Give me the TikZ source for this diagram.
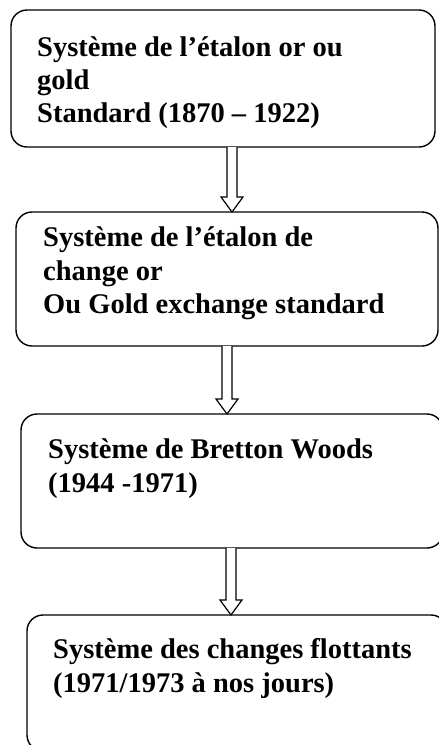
\documentclass[tikz,border=0pt]{standalone}
\usepackage{fontspec}
\setmainfont{Liberation Serif}
\begin{document}
\begin{tikzpicture}[x=1pt,y=-1pt,
  box/.style={draw, line width=1.4pt, rounded corners=16pt, anchor=north west, inner sep=0pt, outer sep=0pt},
  txt/.style={anchor=base west, inner sep=0pt, font=\fontsize{28.5}{34}\selectfont\bfseries},
  blockarr/.style={draw, line width=1.2pt, fill=white, line join=miter}]
\useasboundingbox (0,0) rectangle (439,745);
% boxes
\node[box, minimum width=424pt, minimum height=137pt] (b1) at (11,10) {};
\node[box, minimum width=422pt, minimum height=134pt] (b2) at (16,212) {};
\node[box, minimum width=422pt, minimum height=134pt] (b3) at (21,414) {};
\node[box, minimum width=420pt, minimum height=136pt] (b4) at (27,615) {};
% texts
\node[txt] (t1a) at (37,56) {Système de l’étalon or ou};
\node[txt] (t1b) at (37,89) {gold};
\node[txt] (t1c) at (37,122) {Standard (1870 – 1922)};
\node[txt] (t2a) at (43,246) {Système de l’étalon de};
\node[txt] (t2b) at (43,280) {change or};
\node[txt] (t2c) at (43,313) {Ou Gold exchange standard};
\node[txt] (t3a) at (48,458) {Système de Bretton Woods};
\node[txt] (t3b) at (48,492) {(1944 -1971)};
\node[txt] (t4a) at (53,658) {Système des changes flottants};
\node[txt] (t4b) at (53,692) {(1971/1973 à nos jours)};
% arrows
\coordinate (x1) at (232,0);
\coordinate (x2) at (227,0);
\coordinate (x3) at (231,0);
\foreach \a/\b/\x in {b1/b2/x1, b2/b3/x2, b3/b4/x3}{
  \draw[blockarr] ([xshift=-5pt]\x |- \a.south) -- ([xshift=-5pt,yshift=15pt]\x |- \b.north)
    -- ([xshift=-11pt,yshift=15pt]\x |- \b.north) -- (\x |- \b.north)
    -- ([xshift=11pt,yshift=15pt]\x |- \b.north) -- ([xshift=5pt,yshift=15pt]\x |- \b.north)
    -- ([xshift=5pt]\x |- \a.south);
}
\end{tikzpicture}
\end{document}
